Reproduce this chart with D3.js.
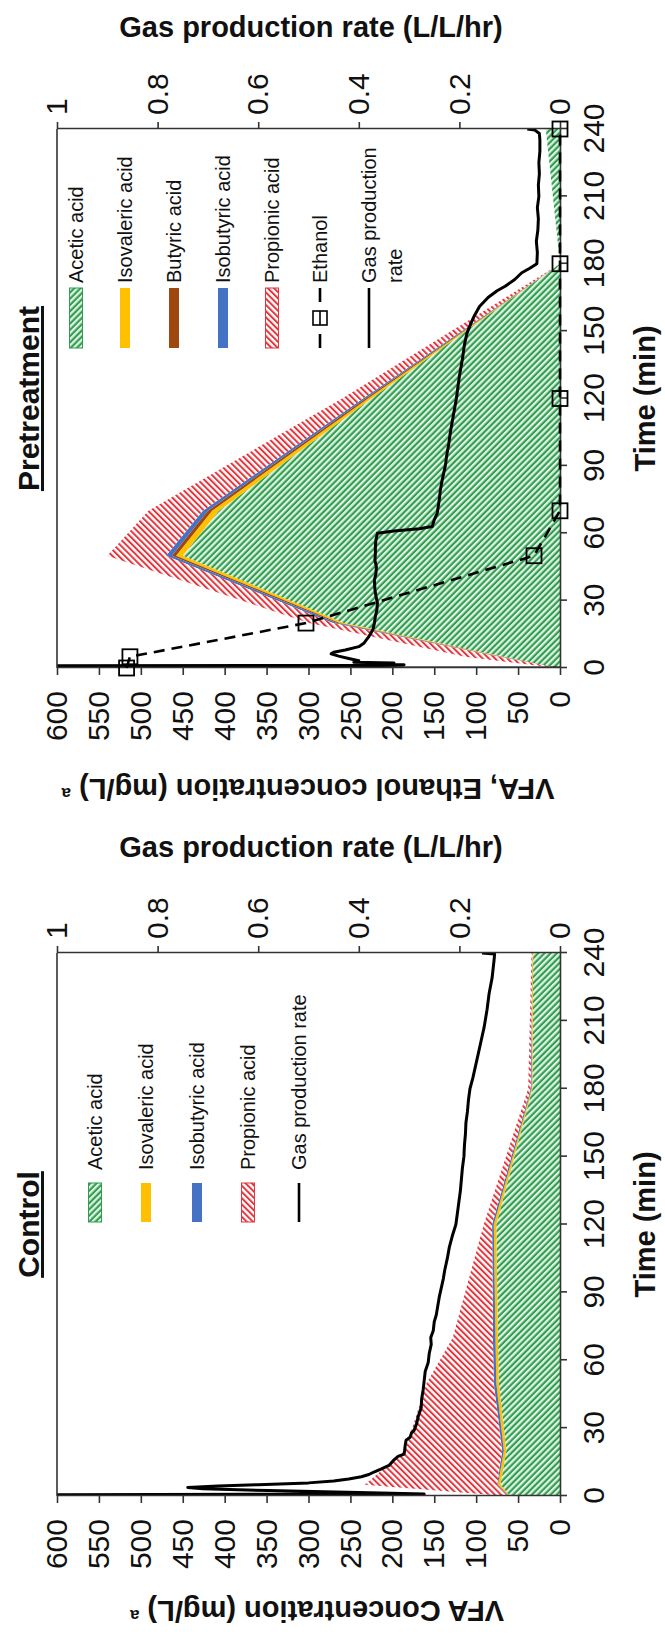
<!DOCTYPE html>
<html><head><meta charset="utf-8">
<script src="https://cdn.jsdelivr.net/npm/d3@7"></script>
<style>
body{margin:0;background:#fff}
svg text{font-family:"Liberation Sans", Arial, sans-serif;fill:#111}
</style>
</head><body>
<svg id="c" width="665" height="1636"></svg>
<script>
// ---------------- data ----------------
const times = [0, 5, 20, 50, 70, 120, 180, 240];
const ctrlAcetic     = [60, 71, 64, 73, 74, 76, 33, 32];
const ctrlIsovaleric = [1, 3, 3, 3, 3, 3, 1, 1];
const ctrlIsobutyric = [1, 1, 2, 3, 3, 2, 1, 0];
const ctrlPropionic  = [3, 158, 116, 80, 48, 10, 3, 1];

const preAcetic     = [2, 68, 258, 450, 407, 225, 0, 17];
const preIsovaleric = [0, 2, 5, 8, 8, 4, 0, 0];
const preButyric    = [0, 2, 3, 5, 5, 3, 0, 0];
const preIsobutyric = [0, 1, 5, 7, 6, 3, 0, 0];
const prePropionic  = [1, 40, 28, 70, 65, 25, 0, 0];
const preEthanol    = [517, 513, 303, 31, 0, 0, 0, 0];

const ctrlGasTime = [0,0.2,0.6,0.9,1.6,2.4,3.2,3.8,4.4,5.0,5.8,6.6,7.5,8.5,9.5,10.6,12,13.5,14.5,16,17.5,18.5,20,22,24.7,26,28,29,32,35,39,43,47,51,55,59,63,67,70,73,77,80,84,88,92,96,100,105,110,115,120,125,130,135,140,145,150,155,160,165,170,175,180,185,190,195,200,207,215,222,229,237,239.5,240];
const ctrlGasRate = [0.28,1.0,1.0,0.27,0.40,0.58,0.71,0.74,0.68,0.60,0.50,0.45,0.42,0.395,0.38,0.37,0.355,0.34,0.336,0.33,0.322,0.31,0.309,0.308,0.306,0.298,0.295,0.29,0.285,0.282,0.276,0.275,0.272,0.27,0.268,0.262,0.26,0.256,0.257,0.252,0.25,0.246,0.243,0.24,0.236,0.232,0.229,0.224,0.22,0.214,0.207,0.204,0.201,0.198,0.196,0.194,0.191,0.19,0.188,0.187,0.184,0.182,0.179,0.173,0.168,0.163,0.158,0.151,0.145,0.141,0.135,0.131,0.13,0.155];

const preGasTime = [0,0.1,1.0,1.2,1.5,1.8,2.2,2.6,3.2,4.2,5.3,6.3,7.0,8.0,9.5,11,12.5,14,17,20,23,26,29,32,35,39,42,45,48,51,54,57,60,61,62,63,66,69,72,75,79,84,90,95,100,105,110,115,120,125,130,135,139,144,149,153,157,161,165,168,170,173,176,178,180,185,190,195,200,205,210,215,220,225,230,235,238,239.5,240];
const preGasRate = [0.0,1.0,1.0,0.40,0.31,0.40,0.33,0.41,0.40,0.42,0.44,0.455,0.45,0.427,0.40,0.39,0.385,0.38,0.372,0.369,0.367,0.364,0.363,0.366,0.368,0.369,0.366,0.365,0.368,0.367,0.367,0.366,0.363,0.33,0.28,0.254,0.25,0.244,0.242,0.24,0.238,0.234,0.228,0.225,0.221,0.218,0.214,0.21,0.206,0.203,0.2,0.196,0.193,0.19,0.185,0.178,0.17,0.16,0.143,0.125,0.109,0.09,0.076,0.06,0.046,0.045,0.047,0.044,0.043,0.045,0.042,0.043,0.041,0.042,0.04,0.04,0.041,0.05,0.065];

const timeTicks = [0, 30, 60, 90, 120, 150, 180, 210, 240];
const vfaTicks  = [0, 50, 100, 150, 200, 250, 300, 350, 400, 450, 500, 550, 600];
const gasTicks  = [0, 0.2, 0.4, 0.6, 0.8, 1];

// ---------------- drawing ----------------
const svg = d3.select("#c");
svg.append("rect").attr("width", 665).attr("height", 1636).attr("fill", "#fff");
const defs = svg.append("defs");
function hatch(id, angle, fg, bg, period, sw) {
  const p = defs.append("pattern").attr("id", id).attr("patternUnits", "userSpaceOnUse")
    .attr("width", period).attr("height", period).attr("patternTransform", `rotate(${angle})`);
  p.append("rect").attr("width", period).attr("height", period).attr("fill", bg);
  p.append("rect").attr("width", sw).attr("height", period).attr("fill", fg);
}
hatch("hGreen", -45, "#2f9c4f", "#ddf2e0", 4.4, 2.1);
hatch("hRed", 45, "#e2353d", "#ffffff", 4.4, 2.0);

const C = {
  green: "url(#hGreen)", red: "url(#hRed)",
  yellow: "#ffc000", blue: "#4472c4", brown: "#9e480e"
};

function panel(cfg) {
  const g = svg.append("g").attr("transform", `translate(0,${cfg.base}) rotate(-90)`);
  const x = d3.scaleLinear().domain([0, 240]).range([cfg.u0, cfg.u1]);
  const y = d3.scaleLinear().domain([0, 600]).range([560, 57]);
  const yg = d3.scaleLinear().domain([0, 1]).range([560, 57]);

  const clipId = "clip" + cfg.id;
  g.append("clipPath").attr("id", clipId).append("rect")
    .attr("x", cfg.u0).attr("y", 57).attr("width", cfg.u1 - cfg.u0).attr("height", 503);

  const rows = times.map((t, i) => {
    const r = { t };
    cfg.series.forEach(s => r[s.key] = s.values[i]);
    return r;
  });
  const layers = d3.stack().keys(cfg.series.map(s => s.key))(rows);
  const area = d3.area().x(d => x(d.data.t)).y0(d => y(d[0])).y1(d => y(d[1]));
  const plot = g.append("g").attr("clip-path", `url(#${clipId})`);
  layers.forEach((layer, i) => {
    plot.append("path").attr("d", area(layer)).attr("fill", cfg.series[i].fill);
  });

  // gas production line
  const gasPts = cfg.gasT.map((t, i) => [t, cfg.gasV[i]]);
  plot.append("path").attr("d", d3.line().x(d => x(d[0])).y(d => yg(d[1]))(gasPts))
    .attr("fill", "none").attr("stroke", "#000").attr("stroke-width", 3).attr("stroke-linejoin", "round");

  // axes
  const styleAxis = a => {
    a.selectAll("path.domain").attr("stroke", "#333").attr("stroke-width", 1.6);
    a.selectAll(".tick line").attr("stroke", "#333").attr("stroke-width", 1.6);
    a.selectAll("text").attr("font-size", 30).attr("fill", "#111")
      .attr("font-family", '"Liberation Sans", Arial, sans-serif');
  };
  g.append("g").attr("transform", `translate(${cfg.u0},0)`)
    .call(d3.axisLeft(y).tickValues(vfaTicks).tickSize(7).tickSizeOuter(0).tickPadding(16)).call(styleAxis);
  g.append("g").attr("transform", `translate(0,560)`)
    .call(d3.axisBottom(x).tickValues(timeTicks).tickSize(7).tickSizeOuter(0).tickPadding(16)).call(styleAxis);
  g.append("g").attr("transform", `translate(${cfg.u1},0)`)
    .call(d3.axisRight(yg).tickValues(gasTicks).tickFormat(d3.format("")).tickSize(7).tickSizeOuter(0).tickPadding(7)).call(styleAxis);
  g.append("line").attr("x1", cfg.u0).attr("x2", cfg.u1).attr("y1", 57).attr("y2", 57)
    .attr("stroke", "#333").attr("stroke-width", 1.6);

  // ethanol
  if (cfg.ethanol) {
    const ePts = times.map((t, i) => [t, cfg.ethanol[i]]);
    g.append("path").attr("d", d3.line().x(d => x(d[0])).y(d => y(d[1]))(ePts))
      .attr("fill", "none").attr("stroke", "#000").attr("stroke-width", 2.6).attr("stroke-dasharray", "11,7");
    g.selectAll("rect.eth").data(ePts).enter().append("rect").attr("class", "eth")
      .attr("x", d => x(d[0]) - 7.5).attr("y", d => y(d[1]) - 7.5).attr("width", 15).attr("height", 15)
      .attr("fill", "none").attr("stroke", "#000").attr("stroke-width", 1.8);
  }

  // titles
  g.append("text").attr("x", x(120)).attr("y", 39).attr("text-anchor", "middle")
    .attr("font-size", 30).attr("font-weight", "bold").attr("text-decoration", "underline").text(cfg.title);
  g.append("text").attr("x", x(120)).attr("y", 655).attr("text-anchor", "middle")
    .attr("font-size", 29).attr("font-weight", "bold").text("Time (min)");
  const yt = g.append("text").attr("transform", `translate(${cfg.vfaTitleU},${cfg.vfaTitleV}) rotate(-90)`)
    .attr("text-anchor", "middle").attr("dy", "0.35em").attr("font-size", 29).attr("font-weight", "bold");
  yt.append("tspan").text(cfg.vfaTitle + " ");
  yt.append("tspan").attr("font-size", 17).attr("baseline-shift", "super").text("a");
  g.append("text").attr("transform", `translate(${cfg.gasTitleU},311) rotate(90)`)
    .attr("text-anchor", "middle").attr("font-size", 29).attr("font-weight", "bold")
    .text("Gas production rate (L/L/hr)");

  // legend
  const L = cfg.legend;
  L.items.forEach((it, i) => {
    const v = L.v[i];
    const lg = g.append("g");
    if (it.type === "hatch") {
      lg.append("rect").attr("x", L.u0).attr("y", v - 6.5).attr("width", L.u1 - L.u0).attr("height", 13)
        .attr("fill", it.fill).attr("stroke", it.stroke).attr("stroke-width", 1);
    } else if (it.type === "bar") {
      lg.append("rect").attr("x", L.u0).attr("y", v - 5).attr("width", L.u1 - L.u0).attr("height", 10)
        .attr("fill", it.fill);
    } else if (it.type === "line") {
      lg.append("line").attr("x1", L.u0).attr("x2", L.u1).attr("y1", v).attr("y2", v)
        .attr("stroke", "#000").attr("stroke-width", 2.6);
    } else if (it.type === "dash") {
      const m = (L.u0 + L.u1) / 2;
      lg.append("line").attr("x1", L.u0).attr("x2", L.u0 + 14).attr("y1", v).attr("y2", v)
        .attr("stroke", "#000").attr("stroke-width", 2.6);
      lg.append("line").attr("x1", L.u1 - 14).attr("x2", L.u1).attr("y1", v).attr("y2", v)
        .attr("stroke", "#000").attr("stroke-width", 2.6);
      lg.append("rect").attr("x", m - 7).attr("y", v - 7).attr("width", 14).attr("height", 14)
        .attr("fill", "none").attr("stroke", "#000").attr("stroke-width", 1.6);
      lg.append("line").attr("x1", m - 7).attr("x2", m + 7).attr("y1", v).attr("y2", v)
        .attr("stroke", "#000").attr("stroke-width", 1.6);
    }
    it.label.forEach((ln, k) => {
      lg.append("text").attr("x", L.uText).attr("y", v + 7 + k * 26)
        .attr("font-size", 20).text(ln);
    });
  });
}

panel({
  id: "pre", base: 812, u0: 144, u1: 683, title: "Pretreatment",
  series: [
    { key: "acetic", values: preAcetic, fill: C.green },
    { key: "isovaleric", values: preIsovaleric, fill: C.yellow },
    { key: "butyric", values: preButyric, fill: C.brown },
    { key: "isobutyric", values: preIsobutyric, fill: C.blue },
    { key: "propionic", values: prePropionic, fill: C.red }
  ],
  ethanol: preEthanol,
  gasT: preGasTime, gasV: preGasRate,
  vfaTitle: "VFA, Ethanol concentration (mg/L)", vfaTitleU: 23, vfaTitleV: 308, gasTitleU: 775,
  legend: {
    u0: 464, u1: 524, uText: 529, v: [76, 125, 174, 223, 272, 320, 369],
    items: [
      { type: "hatch", fill: C.green, stroke: "#2f9c4f", label: ["Acetic acid"] },
      { type: "bar", fill: C.yellow, label: ["Isovaleric acid"] },
      { type: "bar", fill: C.brown, label: ["Butyric acid"] },
      { type: "bar", fill: C.blue, label: ["Isobutyric acid"] },
      { type: "hatch", fill: C.red, stroke: "#e2353d", label: ["Propionic acid"] },
      { type: "dash", label: ["Ethanol"] },
      { type: "line", label: ["Gas production", "rate"] }
    ]
  }
});

panel({
  id: "ctrl", base: 1636, u0: 140, u1: 683, title: "Control",
  series: [
    { key: "acetic", values: ctrlAcetic, fill: C.green },
    { key: "isovaleric", values: ctrlIsovaleric, fill: C.yellow },
    { key: "isobutyric", values: ctrlIsobutyric, fill: C.blue },
    { key: "propionic", values: ctrlPropionic, fill: C.red }
  ],
  ethanol: null,
  gasT: ctrlGasTime, gasV: ctrlGasRate,
  vfaTitle: "VFA Concentration (mg/L)", vfaTitleU: 25, vfaTitleV: 317, gasTitleU: 779,
  legend: {
    u0: 414, u1: 453, uText: 466, v: [95, 146, 197, 248, 299],
    items: [
      { type: "hatch", fill: C.green, stroke: "#2f9c4f", label: ["Acetic acid"] },
      { type: "bar", fill: C.yellow, label: ["Isovaleric acid"] },
      { type: "bar", fill: C.blue, label: ["Isobutyric acid"] },
      { type: "hatch", fill: C.red, stroke: "#e2353d", label: ["Propionic acid"] },
      { type: "line", label: ["Gas production rate"] }
    ]
  }
});
</script>
</body></html>
